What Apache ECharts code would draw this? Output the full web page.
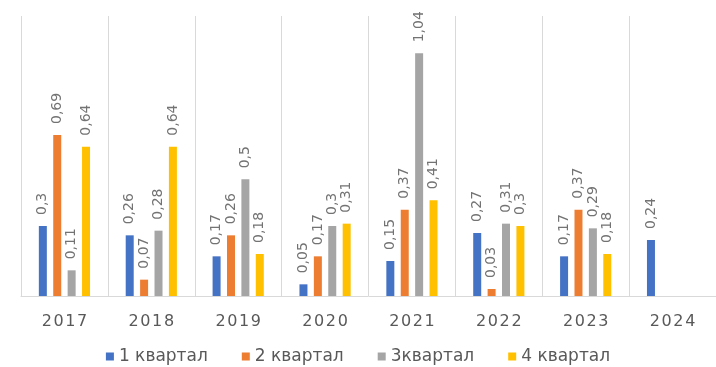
<!DOCTYPE html>
<html>
<head>
<meta charset="utf-8">
<script src="https://cdn.jsdelivr.net/npm/echarts@6/dist/echarts.min.js"></script>
<style>
  html, body { margin: 0; padding: 0; background: #fff; }
  #chart { width: 716px; height: 367px; }
</style>
</head>
<body>
<div id="chart"></div>
<script>
// Years on the category axis
const years = ['2017', '2018', '2019', '2020', '2021', '2022', '2023', '2024'];

// Quarterly values per year (null where the quarter has no data yet)
const q1 = [0.3, 0.26, 0.17, 0.05, 0.15, 0.27, 0.17, 0.24];
const q2 = [0.69, 0.07, 0.26, 0.17, 0.37, 0.03, 0.37, null];
const q3 = [0.11, 0.28, 0.5, 0.3, 1.04, 0.31, 0.29, null];
const q4 = [0.64, 0.64, 0.18, 0.31, 0.41, 0.3, 0.18, null];

const seriesNames = ['1 квартал', '2 квартал', '3квартал', '4 квартал'];
const seriesColors = ['#4472C4', '#ED7D31', '#A5A5A5', '#FFC000'];
const seriesData = [q1, q2, q3, q4];

const fontFamily = '"DejaVu Sans", "Noto Sans", sans-serif';

const chart = echarts.init(document.getElementById('chart'), null, { renderer: 'canvas' });

chart.setOption({
  animation: false,
  backgroundColor: '#ffffff',
  grid: { left: 21, right: -9, top: 16, bottom: 71, containLabel: false },
  legend: {
    top: 343,
    left: 'center',
    itemWidth: 8,
    itemHeight: 8,
    itemGap: 34,
    icon: 'rect',
    textStyle: { color: '#595959', fontSize: 17, fontFamily: fontFamily },
    data: seriesNames
  },
  xAxis: {
    type: 'category',
    data: years,
    boundaryGap: true,
    axisLine: { show: true, lineStyle: { color: '#d9d9d9', width: 1 } },
    axisTick: { show: false },
    splitLine: { show: true, lineStyle: { color: '#d9d9d9', width: 1 } },
    axisLabel: {
      color: '#595959',
      fontSize: 16,
      fontFamily: fontFamily,
      margin: 18,
      formatter: v => v.split('').join('\u200a')
    }
  },
  yAxis: {
    type: 'value',
    min: 0,
    max: 1.2,
    show: false,
    splitLine: { show: false }
  },
  series: seriesData.map((d, i) => ({
    name: seriesNames[i],
    type: 'bar',
    data: d,
    barWidth: 8,
    barGap: '80%',
    itemStyle: { color: seriesColors[i] },
    label: {
      show: true,
      position: 'top',
      rotate: 90,
      align: 'left',
      verticalAlign: 'middle',
      distance: 11,
      color: '#737373',
      fontSize: 14,
      fontFamily: fontFamily,
      formatter: p => (p.value == null ? '' : String(p.value).replace('.', ','))
    }
  }))
});
</script>
</body>
</html>
